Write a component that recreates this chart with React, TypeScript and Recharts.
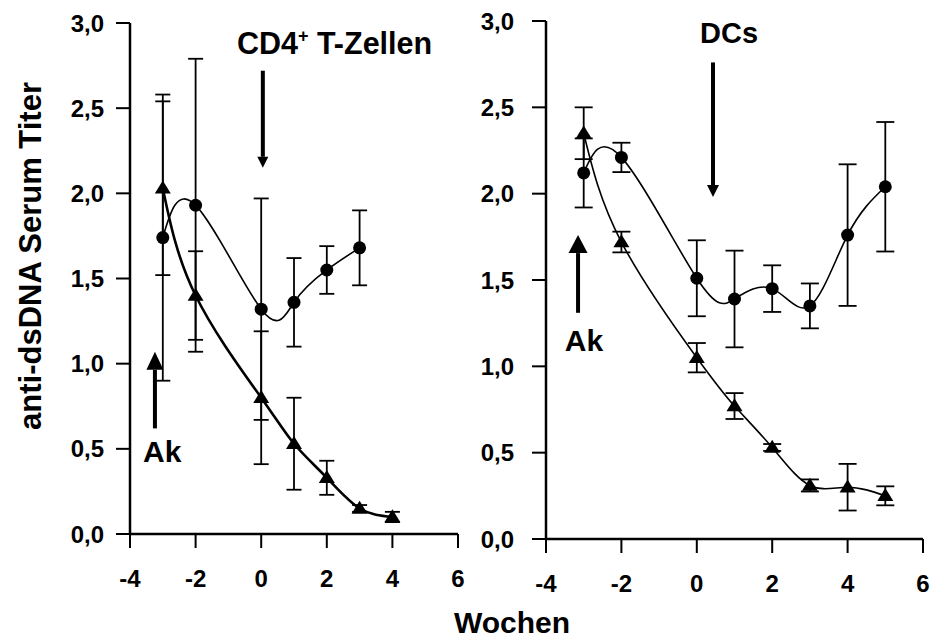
import { LineChart, Line, XAxis, YAxis, ErrorBar, ReferenceLine, ReferenceDot } from 'recharts'

const FONT = '"Liberation Sans", Arial, sans-serif'

const weekTicks = [-4, -2, 0, 2, 4, 6]
const titerTicks = [0, 0.5, 1, 1.5, 2, 2.5, 3]

// left panel: CD4+ T-Zellen
const cd4CircleWeeks = [-3, -2, 0, 1, 2, 3]
const cd4Circle = [1.74, 1.93, 1.32, 1.36, 1.55, 1.68]
const cd4CircleErr = [0.84, 0.86, 0.65, 0.26, 0.14, 0.22]
const cd4TriWeeks = [-3, -2, 0, 1, 2, 3, 4]
const cd4Tri = [2.03, 1.4, 0.8, 0.53, 0.33, 0.15, 0.1]
const cd4TriErr = [0.51, 0.26, 0.39, 0.27, 0.1, 0.02, 0.03]

// right panel: DCs
const dcWeeks = [-3, -2, 0, 1, 2, 3, 4, 5]
const dcCircle = [2.12, 2.21, 1.51, 1.39, 1.45, 1.35, 1.76, 2.04]
const dcCircleErr = [0.2, 0.085, 0.22, 0.28, 0.135, 0.13, 0.41, 0.375]
const dcTri = [2.35, 1.72, 1.05, 0.77, 0.53, 0.31, 0.3, 0.25]
const dcTriErr = [0.15, 0.06, 0.085, 0.075, 0.02, 0.035, 0.135, 0.055]

// annotations (week, titer)
const cd4Arrows = [
  { x: 0.05, from: 2.72, to: 2.15, head: 11, headH: 11 },
  { x: -3.24, from: 0.62, to: 1.07, head: 17, headH: 18 },
]
const cd4Texts = [
  { x: -0.74, y: 2.82, size: 30.5, text: 'CD4', sup: '+', rest: ' T-Zellen' },
  { x: -3.6, y: 0.42, size: 30, text: 'Ak' },
]
const dcArrows = [
  { x: 0.43, from: 2.76, to: 1.98, head: 12, headH: 12 },
  { x: -3.15, from: 1.31, to: 1.76, head: 19, headH: 18 },
]
const dcTexts = [
  { x: 0.085, y: 2.87, size: 29, text: 'DCs' },
  { x: -3.5, y: 1.09, size: 30, text: 'Ak' },
]

const rows = (weeks: number[], vals: number[], errs: number[]) =>
  weeks.map((w, i) => ({ week: w, titer: vals[i], err: errs[i] }))

const CircleDot = (props: any) => {
  const { cx, cy, index } = props
  if (cx == null || cy == null) return <g key={index} />
  return <circle key={index} cx={cx} cy={cy} r={6.5} fill="#000" />
}

const TriangleDot = (props: any) => {
  const { cx, cy, index } = props
  if (cx == null || cy == null) return <g key={index} />
  const w = 8
  const h = 13
  return (
    <polygon
      key={index}
      points={`${cx},${cy - h * 0.6} ${cx - w},${cy + h * 0.4} ${cx + w},${cy + h * 0.4}`}
      fill="#000"
    />
  )
}

const arrowShape = (a: any) => (props: any) => {
  const { x1, y1, x2, y2 } = props
  const dir = y2 > y1 ? 1 : -1
  const baseY = y2 - dir * a.headH
  return (
    <g>
      <line x1={x1} y1={y1} x2={x2} y2={baseY} stroke="#000" strokeWidth={4} />
      <polygon points={`${x2},${y2} ${x2 - a.head / 2},${baseY} ${x2 + a.head / 2},${baseY}`} fill="#000" />
    </g>
  )
}

const textShape = (t: any) => (props: any) => (
  <text x={props.cx} y={props.cy} fontFamily={FONT} fontWeight="bold" fontSize={t.size} fill="#000">
    {t.text}
    {t.sup && (
      <tspan fontSize={18} dy={-12}>
        {t.sup}
      </tspan>
    )}
    {t.rest && <tspan dy={12}>{t.rest}</tspan>}
  </text>
)

const fmt = (v: number) => v.toFixed(1).replace('.', ',')

const XTick = (p: any) => (
  <text x={p.x} y={p.y} dy={17} textAnchor="middle" fontFamily={FONT} fontWeight="bold" fontSize={24} fill="#000">
    {p.payload.value}
  </text>
)

const YTick = (p: any) => (
  <text x={p.x} y={p.y} dy={8.5} textAnchor="end" fontFamily={FONT} fontWeight="bold" fontSize={24} fill="#000">
    {fmt(p.payload.value)}
  </text>
)

function Panel(props: any) {
  const { width, height, margin, yWidth, circles, tris, triStroke, arrows, texts, capW, yTickMargin } = props
  return (
    <LineChart width={width} height={height} margin={margin}>
      <XAxis
        type="number"
        dataKey="week"
        domain={[-4, 6]}
        ticks={weekTicks}
        height={60}
        tickSize={14}
        tickMargin={22}
        axisLine={{ stroke: '#000', strokeWidth: 2.5 }}
        tickLine={{ stroke: '#000', strokeWidth: 2 }}
        tick={XTick}
        allowDuplicatedCategory={false}
      />
      <YAxis
        type="number"
        domain={[0, 3]}
        ticks={titerTicks}
        width={yWidth}
        tickSize={14}
        tickMargin={yTickMargin}
        axisLine={{ stroke: '#000', strokeWidth: 2.5 }}
        tickLine={{ stroke: '#000', strokeWidth: 2 }}
        tick={YTick}
      />
      <Line
        data={circles}
        dataKey="titer"
        type="natural"
        stroke="#000"
        strokeWidth={1.6}
        dot={CircleDot}
        activeDot={false}
        isAnimationActive={false}
      >
        <ErrorBar dataKey="err" width={capW} stroke="#000" strokeWidth={1.8} direction="y" />
      </Line>
      <Line
        data={tris}
        dataKey="titer"
        type="natural"
        stroke="#000"
        strokeWidth={triStroke}
        dot={TriangleDot}
        activeDot={false}
        isAnimationActive={false}
      >
        <ErrorBar dataKey="err" width={capW} stroke="#000" strokeWidth={1.8} direction="y" />
      </Line>
      {arrows.map((a: any, i: number) => (
        <ReferenceLine
          key={'a' + i}
          segment={[
            { x: a.x, y: a.from },
            { x: a.x, y: a.to },
          ]}
          ifOverflow="visible"
          shape={arrowShape(a)}
        />
      ))}
      {texts.map((t: any, i: number) => (
        <ReferenceDot key={'t' + i} x={t.x} y={t.y} r={1} ifOverflow="visible" shape={textShape(t)} />
      ))}
    </LineChart>
  )
}

export default function App() {
  return (
    <div style={{ position: 'absolute', left: 0, top: 0, width: 931, height: 641, background: '#fff' }}>
      <div style={{ position: 'absolute', left: 0, top: 0 }}>
        <Panel
          width={470}
          height={641}
          margin={{ top: 23, right: 12, bottom: 47, left: 0 }}
          yWidth={130}
          yTickMargin={12}
          capW={7.5}
          circles={rows(cd4CircleWeeks, cd4Circle, cd4CircleErr)}
          tris={rows(cd4TriWeeks, cd4Tri, cd4TriErr)}
          triStroke={2.6}
          arrows={cd4Arrows}
          texts={cd4Texts}
        />
      </div>
      <div style={{ position: 'absolute', left: 470, top: 0 }}>
        <Panel
          width={461}
          height={641}
          margin={{ top: 21, right: 8, bottom: 42, left: 0 }}
          yWidth={76}
          yTickMargin={18}
          capW={9}
          circles={rows(dcWeeks, dcCircle, dcCircleErr)}
          tris={rows(dcWeeks, dcTri, dcTriErr)}
          triStroke={1.6}
          arrows={dcArrows}
          texts={dcTexts}
        />
      </div>
      <svg width={931} height={641} style={{ position: 'absolute', left: 0, top: 0, pointerEvents: 'none' }}>
        <text
          transform="translate(41,256) rotate(-90)"
          textAnchor="middle"
          fontFamily={FONT}
          fontWeight="bold"
          fontSize={31}
          fill="#000"
        >
          anti-dsDNA Serum Titer
        </text>
        <text x={512} y={633} textAnchor="middle" fontFamily={FONT} fontWeight="bold" fontSize={30} fill="#000">
          Wochen
        </text>
      </svg>
    </div>
  )
}
